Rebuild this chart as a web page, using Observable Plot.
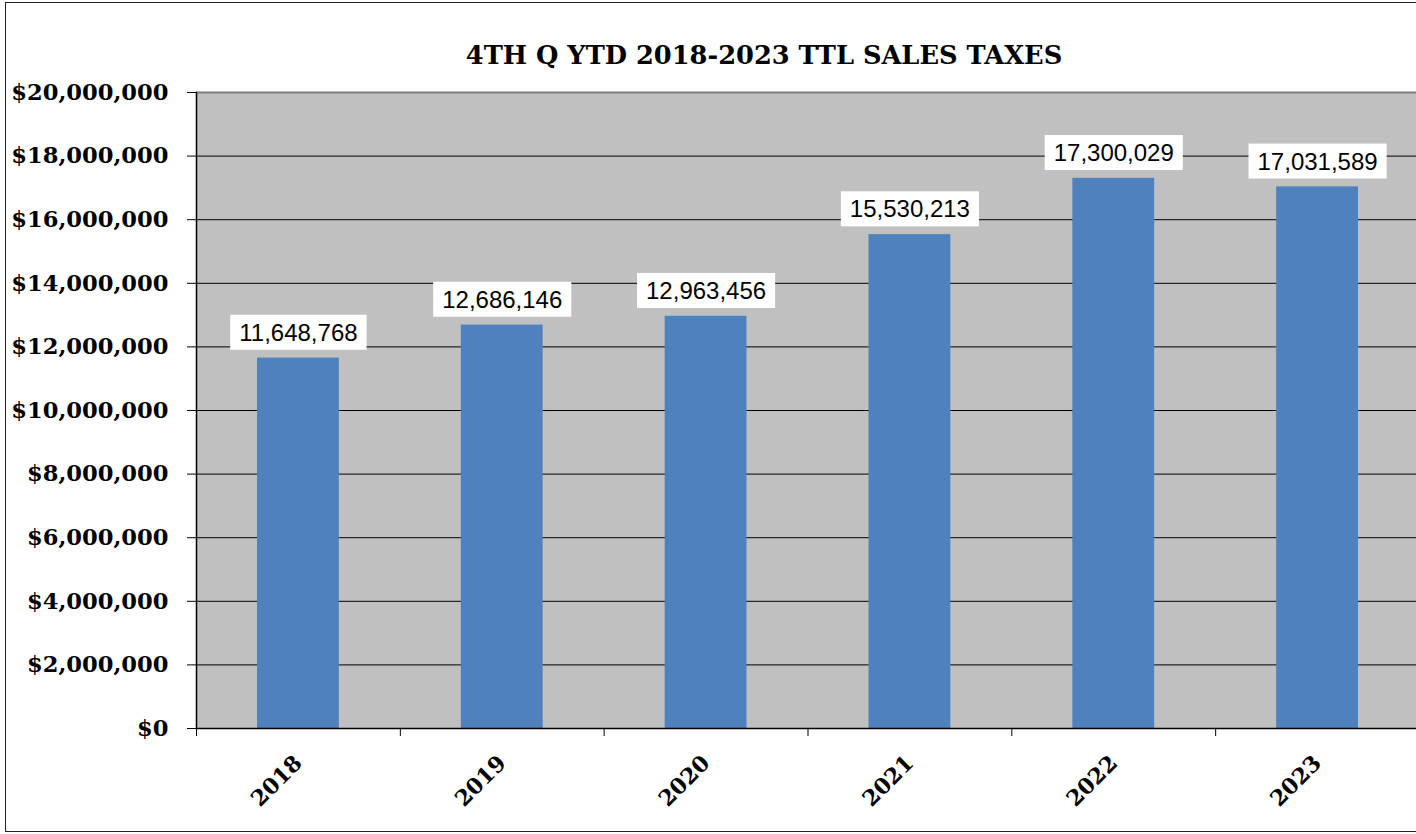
<!DOCTYPE html>
<html>
<head>
<meta charset="utf-8">
<script src="https://cdn.jsdelivr.net/npm/d3@7"></script>
<script src="https://cdn.jsdelivr.net/npm/@observablehq/plot@0.6"></script>
<style>
  html, body { margin: 0; padding: 0; background: #fff; overflow: hidden; }
  #wrap { position: relative; width: 1416px; height: 834px; overflow: hidden; }
  #border { position: absolute; left: 5px; top: 2px; width: 1500px; height: 830px; border: 1px solid #222; box-sizing: border-box; }
  #title { position: absolute; left: 0; top: 40px; width: 1528px; text-align: center;
           font: bold 25.7px "DejaVu Serif", serif; line-height: 30px; color: #000; white-space: nowrap; }
  #chart { position: absolute; left: 0; top: 0; }
  #chart svg { max-width: none !important; }
</style>
</head>
<body>
<div id="wrap">
  <div id="border"></div>
  <div id="title"></div>
  <div id="chart"></div>
</div>
<script>
const chartTitle = "4TH Q YTD 2018-2023 TTL SALES TAXES";
const years = ["2018", "2019", "2020", "2021", "2022", "2023"];
const salesTaxes = [11648768, 12686146, 12963456, 15530213, 17300029, 17031589];
const yTicks = [0, 2000000, 4000000, 6000000, 8000000, 10000000, 12000000, 14000000, 16000000, 18000000, 20000000];

document.getElementById("title").textContent = chartTitle;

const data = years.map((year, i) => ({year, value: salesTaxes[i]}));
const W = 1430, mL = 196, mR = 11;
const step = (W - mL - mR) / years.length;
const serif = "DejaVu Serif";
const fmtLabel = d3.format(",");

const plot = Plot.plot({
  width: W,
  height: 834,
  marginLeft: mL,
  marginRight: mR,
  marginTop: 92,
  marginBottom: 106,
  style: {background: "transparent", overflow: "visible", fontFamily: serif, color: "#000", maxWidth: "none"},
  x: {domain: years, padding: 0, round: false, axis: null, label: null},
  y: {domain: [0, 20000000], axis: null, label: null},
  marks: [
    Plot.frame({fill: "#c0c0c0", stroke: null}),
    Plot.gridY(yTicks.filter(d => d > 0 && d < 20000000), {stroke: "#000", strokeOpacity: 1, strokeWidth: 1}),
    Plot.ruleY([20000000], {stroke: "#808080", strokeWidth: 2}),
    Plot.barY(data, {x: "year", y: "value", fill: "#4f81bd", insetLeft: 61, insetRight: 61}),
    Plot.ruleY([0], {stroke: "#000", strokeWidth: 1.5}),
    Plot.frame({anchor: "left", stroke: "#000", strokeWidth: 1.5}),
    Plot.axisY(yTicks, {tickSize: 9, tickPadding: 19, tickFormat: d3.format("$,"), label: null,
      fontSize: 22.6, fontWeight: "bold", fontFamily: serif, fill: "#000", stroke: "#000"}),
    Plot.axisX({tickSize: 8, text: null, label: null, dx: -step / 2, stroke: "#000"}),
    Plot.text(data, {x: "year", frameAnchor: "bottom", text: "year", dy: 31, rotate: -45,
      textAnchor: "end", lineAnchor: "middle", fontSize: 22, fontWeight: "bold", fontFamily: serif, fill: "#000"}),
    Plot.text(data, {x: "year", y: "value", text: d => fmtLabel(d.value), dy: -25,
      lineAnchor: "middle", fontSize: 24, fontFamily: "Liberation Sans", fill: "#000"})
  ]
});
document.getElementById("chart").appendChild(plot);

// white boxes behind the value labels
const labelSet = new Set(salesTaxes.map(fmtLabel));
plot.querySelectorAll("text").forEach(t => {
  if (!labelSet.has(t.textContent)) return;
  const b = t.getBBox();
  const r = document.createElementNS("http://www.w3.org/2000/svg", "rect");
  r.setAttribute("x", b.x - 9);
  r.setAttribute("y", b.y - 4);
  r.setAttribute("width", b.width + 18);
  r.setAttribute("height", b.height + 8);
  r.setAttribute("fill", "#fff");
  r.setAttribute("stroke", "none");
  if (t.getAttribute("transform")) r.setAttribute("transform", t.getAttribute("transform"));
  t.parentNode.insertBefore(r, t);
});
</script>
</body>
</html>
